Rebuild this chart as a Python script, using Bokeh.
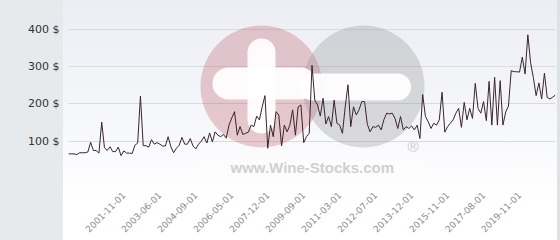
import math
from bokeh.plotting import figure
from bokeh.models import Range1d, FixedTicker
from bokeh.core.properties import value
from bokeh.embed import file_html
from bokeh.resources import INLINE

# ---- data ----
prices = [
    66, 66, 66, 64, 69, 69, 69, 71, 97, 75,
    75, 68, 151, 82, 75, 85, 72, 72, 84, 61,
    74, 68, 68, 67, 89, 95, 221, 88, 88, 84,
    104, 92, 96, 92, 87, 87, 112, 85, 69, 81,
    89, 110, 92, 92, 107, 87, 79, 92, 100, 112,
    95, 122, 98, 125, 116, 112, 118, 108, 143, 162,
    179, 116, 139, 118, 121, 124, 143, 139, 167, 157,
    192, 222, 81, 143, 112, 179, 170, 87, 143, 125,
    143, 184, 116, 192, 197, 96, 112, 121, 303, 210,
    197, 167, 215, 146, 166, 139, 210, 148, 143, 121,
    192, 251, 139, 192, 170, 184, 206, 206, 145, 125,
    139, 137, 143, 130, 158, 175, 173, 175, 161, 134,
    166, 130, 139, 134, 141, 130, 143, 107, 225, 166,
    152, 134, 148, 143, 157, 231, 124, 139, 148, 157,
    175, 188, 137, 204, 157, 188, 161, 255, 188, 175,
    206, 155, 260, 143, 271, 143, 262, 143, 178, 194,
    289, 286, 286, 285, 325, 280, 385, 310, 270, 222,
    256, 213, 282, 217, 213, 218, 224,
]
date_labels = ["2001-11-01", "2003-06-01", "2004-09-01", "2006-05-01",
               "2007-12-01", "2009-09-01", "2011-03-01", "2012-07-01",
               "2013-12-01", "2015-11-01", "2017-08-01", "2019-11-01"]
y_ticks = [0, 100, 200, 300, 400]
y_tick_labels = ["", "100 $", "200 $", "300 $", "400 $"]

FIRST_LABEL_INDEX = 20
LABEL_EVERY = 13

# ---- layout ----
W, H = 560, 240
LEFT, RIGHT, TOP, BOTTOM = 68, 5, 10, 62
YMAX = 450
n = len(prices)

bg_css = ("linear-gradient(to right, #e6eaed 0px, #e6eaed 63px, rgba(255,255,255,0) 63px, "
          "rgba(255,255,255,0) 557px, #dfe2e5 557px, #dfe2e5 560px), "
          "linear-gradient(to bottom, #eceef4 0px, #f6f7fa 120px, #ffffff 200px, #ffffff 240px)")

p = figure(width=W, height=H, output_backend="svg", toolbar_location=None,
           x_range=Range1d(0, n - 1), y_range=Range1d(0, YMAX),
           min_border_left=LEFT, min_border_right=RIGHT,
           min_border_top=TOP, min_border_bottom=BOTTOM,
           styles={"background": bg_css})
p.outline_line_color = None
p.background_fill_alpha = 0
p.border_fill_alpha = 0

def fx(px):
    return (px - LEFT) / (W - LEFT - RIGHT) * (n - 1)

def fy(py):
    return (H - BOTTOM - py) / (H - BOTTOM - TOP) * YMAX

# grid
p.xgrid.visible = False
p.ygrid.ticker = FixedTicker(ticks=y_ticks)
p.ygrid.grid_line_color = "#dadada"

# y axis
p.yaxis.ticker = FixedTicker(ticks=y_ticks)
p.yaxis.major_label_overrides = dict(zip(y_ticks, y_tick_labels))
p.yaxis.axis_line_color = None
p.yaxis.major_tick_line_color = None
p.yaxis.minor_tick_line_color = None
p.yaxis.major_tick_out = 0
p.yaxis.major_label_standoff = 9
p.yaxis.major_label_text_font = "DejaVu Sans"
p.yaxis.major_label_text_font_size = "11px"
p.yaxis.major_label_text_color = "#333333"

# x axis
x_ticks = [FIRST_LABEL_INDEX + k * LABEL_EVERY for k in range(len(date_labels))]
p.xaxis.ticker = FixedTicker(ticks=x_ticks)
p.xaxis.major_label_overrides = dict(zip(x_ticks, date_labels))
p.xaxis.major_label_orientation = math.pi / 4
p.xaxis.axis_line_color = None
p.xaxis.major_tick_line_color = None
p.xaxis.minor_tick_line_color = None
p.xaxis.major_tick_out = 0
p.xaxis.major_label_standoff = 15
p.xaxis.major_label_text_font = "DejaVu Sans"
p.xaxis.major_label_text_font_size = "9px"
p.xaxis.major_label_text_color = "#8c8c8c"

# watermark
p.scatter(x=[fx(261)], y=[fy(86)], size=122, marker="circle",
          fill_color="#be5a67", fill_alpha=0.3, line_color=None)
p.scatter(x=[fx(363)], y=[fy(86)], size=122, marker="circle",
          fill_color="#909092", fill_alpha=0.3, line_color=None)
p.line(x=[fx(228), fx(300)], y=[fy(83), fy(83)], line_width=32,
       line_cap="round", line_color="white", line_alpha=0.92)
p.line(x=[fx(312), fx(397)], y=[fy(86.5), fy(86.5)], line_width=27,
       line_cap="round", line_color="white", line_alpha=0.92)
p.line(x=[fx(261), fx(261)], y=[fy(52), fy(119)], line_width=28,
       line_cap="round", line_color="white", line_alpha=0.92)
p.quad(left=[fx(197)], right=[fx(427)], top=[fy(148)], bottom=[fy(174)],
       fill_color="white", fill_alpha=0.25, line_color=None)
p.text(x=[fx(230)], y=[fy(167)], text=["www.Wine-Stocks.com"],
       text_font=value("Liberation Sans"), text_font_style="bold",
       text_font_size="15px", text_color="#d0d0d0", text_baseline="alphabetic")
p.text(x=[fx(407)], y=[fy(146)], text=["®"],
       text_font=value("Liberation Sans"), text_font_size="15px",
       text_color="#cccccc", text_baseline="alphabetic")

# data line
p.line(x=list(range(n)), y=prices, line_color="#3a2430", line_width=1)

open("out.html", "w").write(file_html(p, INLINE))
